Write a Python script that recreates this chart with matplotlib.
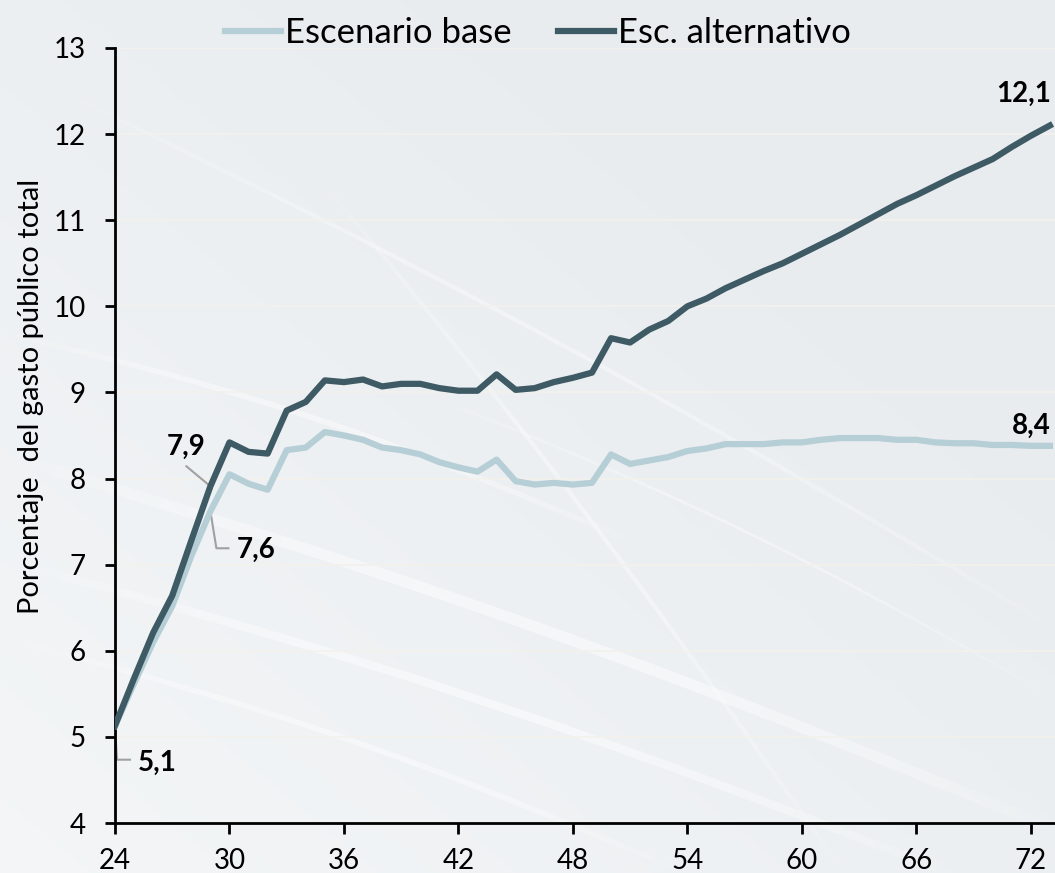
import matplotlib
matplotlib.use("Agg")
import matplotlib.pyplot as plt
from matplotlib.collections import LineCollection
import numpy as np

plt.rcParams['font.family'] = ['Lato', 'DejaVu Sans']

# años (dos últimas cifras) y % del gasto público total
years = list(range(24, 74))
base = [5.13, 5.62, 6.10, 6.52, 7.10, 7.62, 8.05, 7.94, 7.87, 8.33,
        8.36, 8.54, 8.50, 8.45, 8.36, 8.33, 8.28, 8.19, 8.13, 8.08,
        8.22, 7.97, 7.93, 7.95, 7.93, 7.95, 8.28, 8.17, 8.21, 8.25,
        8.32, 8.35, 8.40, 8.40, 8.40, 8.42, 8.42, 8.45, 8.47, 8.47,
        8.47, 8.45, 8.45, 8.42, 8.41, 8.41, 8.39, 8.39, 8.38, 8.38]
alternativo = [5.13, 5.68, 6.21, 6.64, 7.28, 7.91, 8.42, 8.31, 8.29, 8.79,
               8.89, 9.14, 9.12, 9.15, 9.07, 9.10, 9.10, 9.05, 9.02, 9.02,
               9.21, 9.03, 9.05, 9.12, 9.17, 9.23, 9.63, 9.58, 9.73, 9.83,
               10.00, 10.09, 10.21, 10.31, 10.41, 10.50, 10.61, 10.72, 10.83, 10.95,
               11.07, 11.19, 11.29, 11.40, 11.51, 11.61, 11.71, 11.85, 11.98, 12.10]
series_names = ["Escenario base", "Esc. alternativo"]
y_ticks = list(range(4, 14))
x_ticks = list(range(24, 73, 6))

c_base = "#b6ced5"
c_alt = "#3e5a65"
c_lead = "#a0a0a0"

fig = plt.figure(figsize=(10.55, 8.73), dpi=100)
fig.patch.set_facecolor("#e8ecef")

# fondo: velo blanco hacia abajo a la izquierda y estelas claras
bg = fig.add_axes([0, 0, 1, 1], zorder=0)
bg.set_xlim(0, 1)
bg.set_ylim(0, 1)
bg.axis("off")
grad = np.linspace(0, 1, 256)
gx, gy = np.meshgrid(grad, grad)
veil = np.ones((256, 256, 4))
veil[..., 3] = np.clip(0.55 * (1 - gx) + 0.55 * gy - 0.25, 0, 1) * 0.6
bg.imshow(veil, extent=[0, 1, 0, 1], origin="upper", aspect="auto",
          interpolation="bilinear")
streaks = [((0.0, 0.48), (1.0, 0.05), 8, 0.45),
           ((0.0, 0.36), (0.90, 0.0), 6, 0.45),
           ((0.0, 0.27), (0.65, 0.0), 4, 0.4),
           ((0.05, 0.90), (1.0, 0.28), 3, 0.35),
           ((0.30, 0.80), (0.80, 0.0), 3, 0.35),
           ((0.0, 0.62), (0.60, 0.38), 4, 0.4),
           ((0.40, 0.55), (1.0, 0.20), 2, 0.35)]
t = np.linspace(0, 1, 80)
for (x0, y0), (x1, y1), w, a in streaks:
    xs = x0 + (x1 - x0) * t
    ys = y0 + (y1 - y0) * t + 0.02 * np.sin(np.pi * t)
    pts = np.column_stack([xs, ys]).reshape(-1, 1, 2)
    segs = np.concatenate([pts[:-1], pts[1:]], axis=1)
    fade = a * np.sin(np.pi * t[:-1]) ** 0.7
    cols = np.ones((len(segs), 4))
    cols[:, 3] = fade
    bg.add_collection(LineCollection(segs, colors=cols, linewidths=w,
                                     capstyle="butt"))

ax = fig.add_axes([115 / 1055, 50 / 873, 940 / 1055, 775 / 873], zorder=1)
ax.patch.set_alpha(0)

ax.plot(years, base, color=c_base, lw=4.5, label=series_names[0], zorder=3)
ax.plot(years, alternativo, color=c_alt, lw=4.5, label=series_names[1], zorder=4)

ax.set_xlim(24, 73.27)
ax.set_ylim(4, 13)
ax.set_xticks(x_ticks)
ax.set_yticks(y_ticks)
ax.tick_params(axis="both", direction="out", width=2, labelsize=20,
               colors="black")
ax.tick_params(axis="y", length=7, pad=14)
ax.tick_params(axis="x", length=8, pad=10)
for s in ["top", "right"]:
    ax.spines[s].set_visible(False)
for s in ["left", "bottom"]:
    ax.spines[s].set_linewidth(2)
ax.grid(axis="y", color="#f3f1ec", lw=1.2, zorder=1)
ax.set_ylabel("Porcentaje  del gasto público total", fontsize=21)
ax.yaxis.set_label_coords(-0.075, 0.55)


def shifted(x, y, dx, dy):
    # desplaza un punto de datos unos píxeles en pantalla
    px, py = ax.transData.transform((x, y))
    return ax.transData.inverted().transform((px + dx, py + dy))


def fmt(v):
    return f"{v:.1f}".replace(".", ",")


lab = dict(fontsize=20, fontweight="bold", color="black")

# 5,1 al inicio
x0, y0 = years[0], base[0]
p1 = shifted(x0, y0, 2, -34)
p2 = shifted(x0, y0, 15, -34)
ax.plot([x0, p1[0], p2[0]], [y0, p1[1], p2[1]], color=c_lead, lw=1.5, zorder=2)
tx = shifted(x0, y0, 42, -37)
ax.text(tx[0], tx[1], fmt(base[0]), ha="center", va="center", **lab)

# 7,6 y 7,9 en 2029
i = years.index(29)
xb, yb = years[i], base[i]
p1 = shifted(xb, yb, 6, -37)
p2 = shifted(xb, yb, 18, -37)
ax.plot([xb, p1[0], p2[0]], [yb, p1[1], p2[1]], color=c_lead, lw=1.5, zorder=2)
tx = shifted(xb, yb, 46, -39)
ax.text(tx[0], tx[1], fmt(base[i]), ha="center", va="center", **lab)

xa, ya = years[i], alternativo[i]
p1 = shifted(xa, ya, -24, 20)
ax.plot([xa, p1[0]], [ya, p1[1]], color=c_lead, lw=1.5, zorder=2)
tx = shifted(xa, ya, -24, 39)
ax.text(tx[0], tx[1], fmt(alternativo[i]), ha="center", va="center", **lab)

# valores finales
tx = shifted(years[-1], base[-1], 1, 20)
ax.text(tx[0], tx[1], fmt(base[-1]), ha="right", va="center", **lab)
tx = shifted(years[-1], alternativo[-1], 1, 32)
ax.text(tx[0], tx[1], fmt(alternativo[-1]), ha="right", va="center", **lab)

fig.legend(loc="upper center", bbox_to_anchor=(0.51, 1.016), ncol=2,
           frameon=False, fontsize=25, handlelength=1.6, handletextpad=0.12,
           columnspacing=1.35)
for line in fig.legends[0].get_lines():
    line.set_linewidth(4.5)

fig.savefig("out.png", dpi=100, facecolor=fig.get_facecolor())
